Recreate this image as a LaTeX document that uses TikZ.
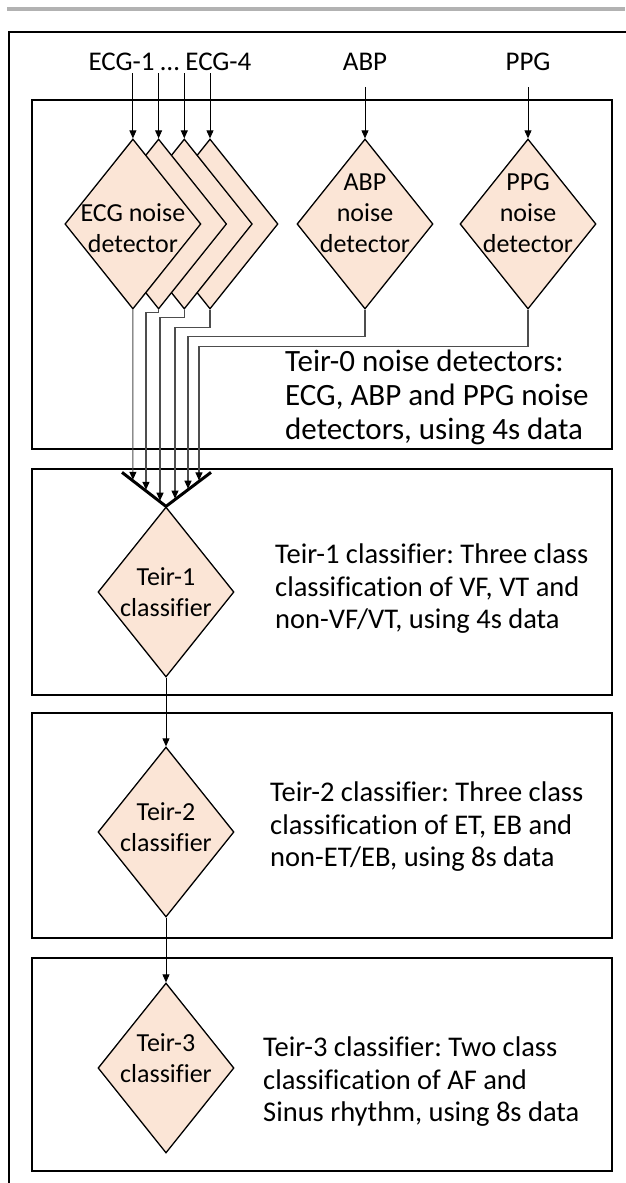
\documentclass[tikz,border=0pt]{standalone}
\usepackage{fontspec}
\setmainfont{Carlito}[Ligatures=CommonOff]
\frenchspacing
\usetikzlibrary{positioning,shapes.geometric,arrows.meta,calc}

\definecolor{peach}{HTML}{FBE5D6}
\definecolor{wiregray}{HTML}{4D4D4D}

\tikzset{
  block/.style={diamond, draw, fill=peach, line width=1.3pt, inner sep=0pt,
    minimum width=136pt, minimum height=170pt, on grid},
  blocktext/.style={align=center, font=\fontsize{26}{31}\selectfont},
  signal/.style={inner sep=2pt, font=\fontsize{27}{32}\selectfont},
  note/.style={anchor=west, align=left, inner sep=0pt,
    font=\fontsize{28.5}{32.5}\selectfont},
  panel/.style={line width=1.6pt},
  feed/.style={-{Triangle[length=8pt,width=7pt,color=black,fill=black]}, line width=0.9pt},
  wire/.style={-{Triangle[length=8pt,width=7pt,color=black,fill=black]},
    draw=wiregray, line width=1.1pt, shorten >=1pt},
}

\begin{document}
\begin{tikzpicture}[x=1pt, y=1pt]

            \useasboundingbox (0,0) rectangle (625,-1183);

            % Frames

            \draw[line width=4.5pt, gray!60] (7,-9) -- (625,-9);
            \draw[panel] (9,-1190) -- (9,-32) -- (630,-32);
            \draw[panel] (32,-100) rectangle (612,-449);
            \draw[panel] (32,-469) rectangle (612,-695);
            \draw[panel] (32,-713) rectangle (612,-938);
            \draw[panel] (32,-958) rectangle (612,-1171);

            % Nodes

            \node[signal] (ecg) at (170,-62) {ECG-1 … ECG-4};
            \node[signal] (abpin) at (365,-62) {ABP};
            \node[signal] (ppgin) at (528,-62) {PPG};

            \node[block] (e4) at (210,-224) {};
            \node[block, left=25.7pt of e4] (e3) {};
            \node[block, left=25.7pt of e3] (e2) {};
            \node[block, left=25.7pt of e2, label={[blocktext, yshift=-4pt]center:{ECG noise\\detector}}] (e1) {};
            \node[block, label={[blocktext, yshift=11pt]center:{ABP\\noise\\detector}}] (abp) at (365,-224) {};
            \node[block, right=163pt of abp, label={[blocktext, yshift=11pt]center:{PPG\\noise\\detector}}] (ppg) {};

            \node[block, label={[blocktext]center:{Teir-1\\classifier}}] (t1) at (166,-592) {};
            \node[block, below=240pt of t1, label={[blocktext, yshift=5pt]center:{Teir-2\\classifier}}] (t2) {};
            \node[block, below=236pt of t2, label={[blocktext, yshift=10pt]center:{Teir-3\\classifier}}] (t3) {};

            \node[note, font=\fontsize{31}{34}\selectfont] (n0) at (285,-397) {Teir-0 noise detectors:\\ECG, ABP and PPG noise\\detectors, using 4s data};
            \node[note] (n1) at (275,-589) {Teir-1 classifier: Three class\\classification of VF, VT and\\non-VF/VT, using 4s data};
            \node[note] (n2) at (270,-827) {Teir-2 classifier: Three class\\classification of ET, EB and\\non-ET/EB, using 8s data};
            \node[note] (n3) at (263,-1082) {Teir-3 classifier: Two class\\classification of AF and\\Sinus rhythm, using 8s data};

            % Merge

            \coordinate (vl) at ([shift={(-44pt,34pt)}]t1.north);
            \coordinate (vr) at ([shift={(45pt,34pt)}]t1.north);
            \draw[line width=3pt] (vl) -- (t1.north) -- (vr);
            \coordinate (m1) at (intersection of e1.north--e1.south and vl--t1.north);
            \coordinate (m2) at ($(vl)!0.545!(t1.north)$);
            \coordinate (m3) at ($(vl)!0.864!(t1.north)$);
            \coordinate (m4) at ($(t1.north)!0.2!(vr)$);
            \coordinate (m5) at ($(t1.north)!0.489!(vr)$);
            \coordinate (m6) at ($(t1.north)!0.733!(vr)$);

            % Edges

            \foreach \i in {1,...,4}
              \draw[feed] (e\i.north |- ecg.south) -- (e\i.north);
            \draw[feed, shorten <=14pt] (abpin) -- (abp);
            \draw[feed, shorten <=14pt] (ppgin) -- (ppg);

            \draw[wire] (e1.south) -- (m1);
            \draw[wire] (e2.south) -- ++(0,-3) -| (m2);
            \draw[wire] (e3.south) -- ++(0,-8) -| (m3);
            \draw[wire] (e4.south) -- ++(0,-18) -| (m4);
            \draw[wire] (abp.south) -- ++(0,-27) -| (m5);
            \draw[wire] (ppg.south) -- ++(0,-37) -| (m6);

            \draw[feed] (t1) -- (t2);
            \draw[feed] (t2) -- (t3);

\end{tikzpicture}
\end{document}
